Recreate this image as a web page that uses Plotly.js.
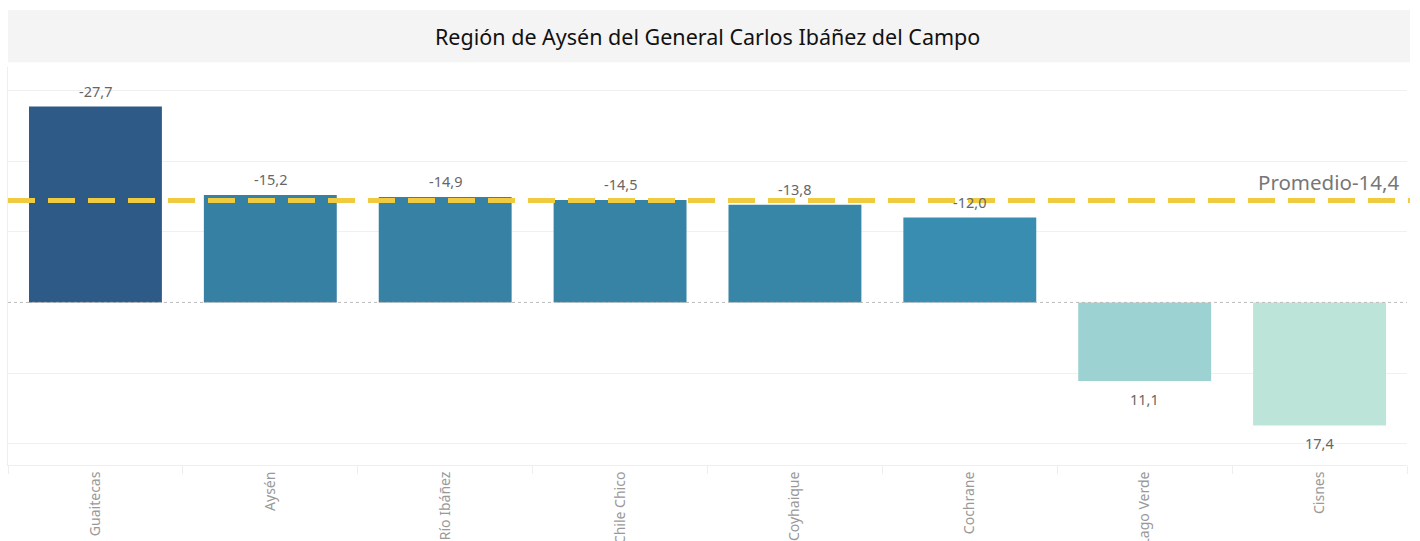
<!DOCTYPE html>
<html>
<head>
<meta charset="utf-8">
<script src="https://cdn.plot.ly/plotly-3.0.1.min.js"></script>
<style>html,body{margin:0;padding:0;background:#fff;}#chart{width:1420px;height:541px;}</style>
</head>
<body>
<div id="chart"></div>
<script>
const chartTitle = "Región de Aysén del General Carlos Ibáñez del Campo";
const comunas = ["Guaitecas", "Aysén", "Río Ibáñez", "Chile Chico", "Coyhaique", "Cochrane", "Lago Verde", "Cisnes"];
const valores = [-27.7, -15.2, -14.9, -14.5, -13.8, -12.0, 11.1, 17.4];
const colores = ["#2e5a87", "#3580a3", "#3681a4", "#3683a5", "#3785a7", "#398db0", "#9cd2d1", "#bde4d9"];
const promedio = -14.4;
const promedioLabel = "Promedio";

const fmt = v => v.toFixed(1).replace('.', ',');

const trace = {
  type: 'bar',
  x: comunas,
  y: valores,
  marker: {color: colores},
  hoverinfo: 'x+y'
};

const barLabels = comunas.map((c, i) => ({
  text: fmt(valores[i]), xref: 'x', yref: 'y', x: c, y: valores[i],
  xanchor: 'center', yanchor: valores[i] < 0 ? 'bottom' : 'top',
  yshift: valores[i] < 0 ? 4 : -6,
  showarrow: false,
  font: {family: 'Noto Sans, sans-serif', size: 14.5, color: '#666'}
}));

const layout = {
  width: 1420, height: 541,
  margin: {l: 8, r: 13, t: 67, b: 76},
  paper_bgcolor: '#fff', plot_bgcolor: '#fff',
  showlegend: false,
  bargap: 0.24,
  font: {family: 'Noto Sans, sans-serif'},
  xaxis: {
    type: 'category',
    tickangle: -90,
    tickfont: {family: 'Noto Sans, sans-serif', size: 14, color: '#999'},
    showline: true, linecolor: '#eeeeee', linewidth: 1,
    ticks: 'outside', tickson: 'boundaries', ticklen: 8, tickcolor: '#eeeeee',
    showgrid: false, automargin: false, fixedrange: true
  },
  yaxis: {
    range: [23, -33.3],
    tickvals: [-30, -20, -10, 10, 20],
    showticklabels: false,
    showgrid: true, gridcolor: '#f0f0f0', gridwidth: 1,
    zeroline: false,
    showline: true, linecolor: '#eeeeee', linewidth: 1,
    automargin: false, fixedrange: true
  },
  shapes: [
    {type: 'rect', xref: 'paper', yref: 'paper', x0: 0, x1: 1.0021, y0: 1.012, y1: 1.143,
     fillcolor: '#f4f4f4', line: {width: 0}, layer: 'below'},
    {type: 'line', xref: 'paper', yref: 'y', x0: 0, x1: 1, y0: 0, y1: 0,
     line: {color: '#bbbbbb', width: 1, dash: 'dot'}, layer: 'above'},
    {type: 'line', xref: 'paper', yref: 'y', x0: 0, x1: 1.0021, y0: promedio, y1: promedio,
     line: {color: '#f0cb40', width: 5, dash: '27px,13px'}, layer: 'above'}
  ],
  annotations: [
    {text: chartTitle, xref: 'paper', yref: 'paper', x: 0.5, y: 1.077, xanchor: 'center', yanchor: 'middle',
     showarrow: false, font: {family: 'Noto Sans, sans-serif', size: 21.5, color: '#111'}},
    {text: promedioLabel + fmt(promedio), xref: 'paper', yref: 'y', x: 0.9955, y: promedio, xanchor: 'right', yanchor: 'bottom',
     yshift: 3, showarrow: false, font: {family: 'Noto Sans, sans-serif', size: 20.5, color: '#777'}}
  ].concat(barLabels)
};

Plotly.newPlot('chart', [trace], layout, {displayModeBar: false, staticPlot: true});
</script>
</body>
</html>
